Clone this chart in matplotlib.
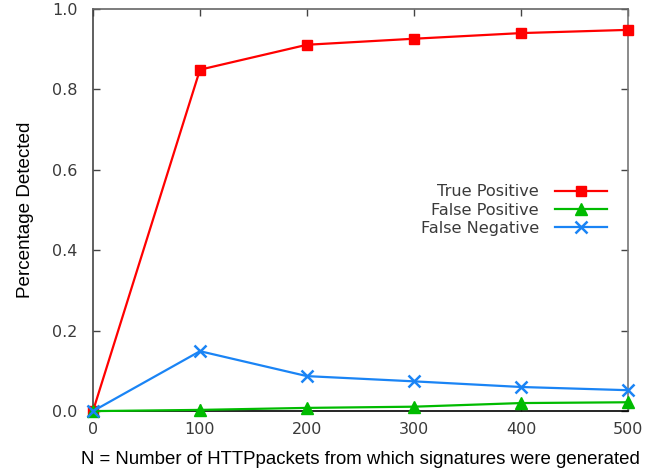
import numpy as np
import matplotlib.pyplot as plt

# valores
N_PACOTES = [0, 100, 200, 300, 400, 500]
TRUE_POS = [0.0, 0.849, 0.911, 0.926, 0.940, 0.948]
FALSE_POS = [0.0, 0.003, 0.008, 0.011, 0.020, 0.022]
FALSE_NEG = [0.0, 0.149, 0.087, 0.074, 0.060, 0.052]

COR_TEXTO = '#3a3a3a'

fig = plt.figure(figsize=(6.65, 4.72), dpi=100)
ax = fig.add_axes([0.1398, 0.129, 0.8045, 0.852])

ax.plot(N_PACOTES, TRUE_POS, color='#ff0000', lw=1.6, marker='s', ms=7,
        label='True Positive', clip_on=False, zorder=3)
ax.plot(N_PACOTES, FALSE_POS, color='#00bb00', lw=1.6, marker='^', ms=8,
        label='False Positive', clip_on=False, zorder=3)
ax.plot(N_PACOTES, FALSE_NEG, color='#1a84f5', lw=1.6, marker='x', ms=8, mew=1.8,
        label='False Negative', clip_on=False, zorder=3)

ax.set_xlim(0, 500)
ax.set_ylim(0, 1.0)
ax.set_xticks(np.arange(0, 501, 100))
ax.set_yticks(np.arange(0, 1.01, 0.2))
ax.yaxis.set_major_formatter(plt.FormatStrFormatter('%.1f'))

ax.tick_params(direction='in', top=True, right=True, length=5, width=1,
               labelsize=11.5, labelcolor=COR_TEXTO, color='#444444')
ax.tick_params(axis='y', pad=11)
ax.tick_params(axis='x', pad=8)
ax.spines['bottom'].set_color('black')
ax.spines['left'].set_color('#444444')
ax.spines['top'].set_color('#666666')
ax.spines['right'].set_color('#777777')
for s in ax.spines.values():
    s.set_linewidth(1.2)

ax.set_xlabel('N = Number of HTTPpackets from which signatures were generated',
              fontsize=13.4, family='Liberation Sans', color='black', labelpad=10)
ax.set_ylabel('Percentage Detected', fontsize=13.6, family='Liberation Sans',
              color='black', labelpad=13)

leg = ax.legend(loc='center right', bbox_to_anchor=(0.975, 0.50), frameon=False,
                markerfirst=False, fontsize=11.6, handlelength=3.2,
                labelspacing=0.2, handletextpad=1.0, borderpad=0)
for t in leg.get_texts():
    t.set_color(COR_TEXTO)
    t.set_ha('right')

fig.savefig('out.png', dpi=100)
